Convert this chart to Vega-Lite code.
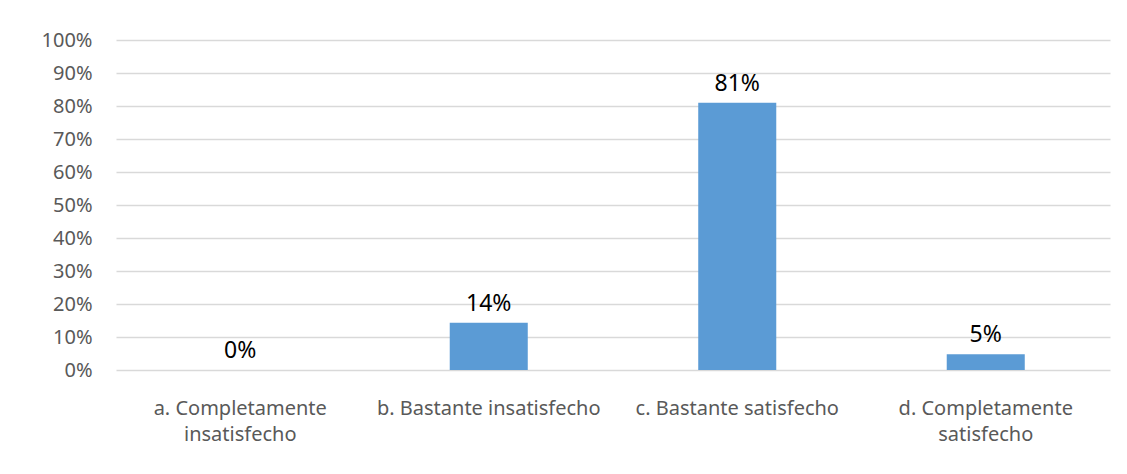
{
  "$schema": "https://vega.github.io/schema/vega-lite/v6.json",
  "width": 994,
  "height": 330,
  "autosize": {"type": "none"},
  "padding": {"left": 116, "top": 40, "right": 17, "bottom": 104},
  "background": "white",
  "config": {"view": {"stroke": null}, "font": "Noto Sans"},
  "data": {
    "values": [
      {"categoria": "a. Completamente insatisfecho", "valor": 0},
      {"categoria": "b. Bastante insatisfecho", "valor": 0.143},
      {"categoria": "c. Bastante satisfecho", "valor": 0.81},
      {"categoria": "d. Completamente satisfecho", "valor": 0.048}
    ]
  },
  "encoding": {
    "x": {
      "field": "categoria",
      "type": "nominal",
      "sort": null,
      "scale": {"paddingInner": 0.686, "paddingOuter": 0.343},
      "axis": {
        "title": null,
        "labelAngle": 0,
        "domain": false,
        "ticks": false,
        "labelPadding": 28,
        "labelFontSize": 20,
        "labelLimit": 0,
        "labelColor": "#595959",
        "labelLineHeight": 26,
        "labelExpr": "datum.label == 'a. Completamente insatisfecho' ? ['a. Completamente', 'insatisfecho'] : datum.label == 'd. Completamente satisfecho' ? ['d. Completamente', 'satisfecho'] : datum.label"
      }
    },
    "y": {
      "field": "valor",
      "type": "quantitative",
      "scale": {"domain": [0, 1], "nice": false},
      "axis": {
        "title": null,
        "format": ".0%",
        "values": [0, 0.1, 0.2, 0.3, 0.4, 0.5, 0.6, 0.7, 0.8, 0.9, 1],
        "domain": false,
        "ticks": false,
        "labelPadding": 24,
        "labelFontSize": 20,
        "labelColor": "#595959",
        "gridColor": "#d9d9d9",
        "gridWidth": 1.3
      }
    }
  },
  "layer": [
    {"mark": {"type": "bar", "color": "#5b9bd5"}},
    {
      "mark": {"type": "text", "baseline": "bottom", "dy": -7, "fontSize": 23, "color": "#000000"},
      "encoding": {"text": {"field": "valor", "type": "quantitative", "format": ".0%"}}
    }
  ]
}
